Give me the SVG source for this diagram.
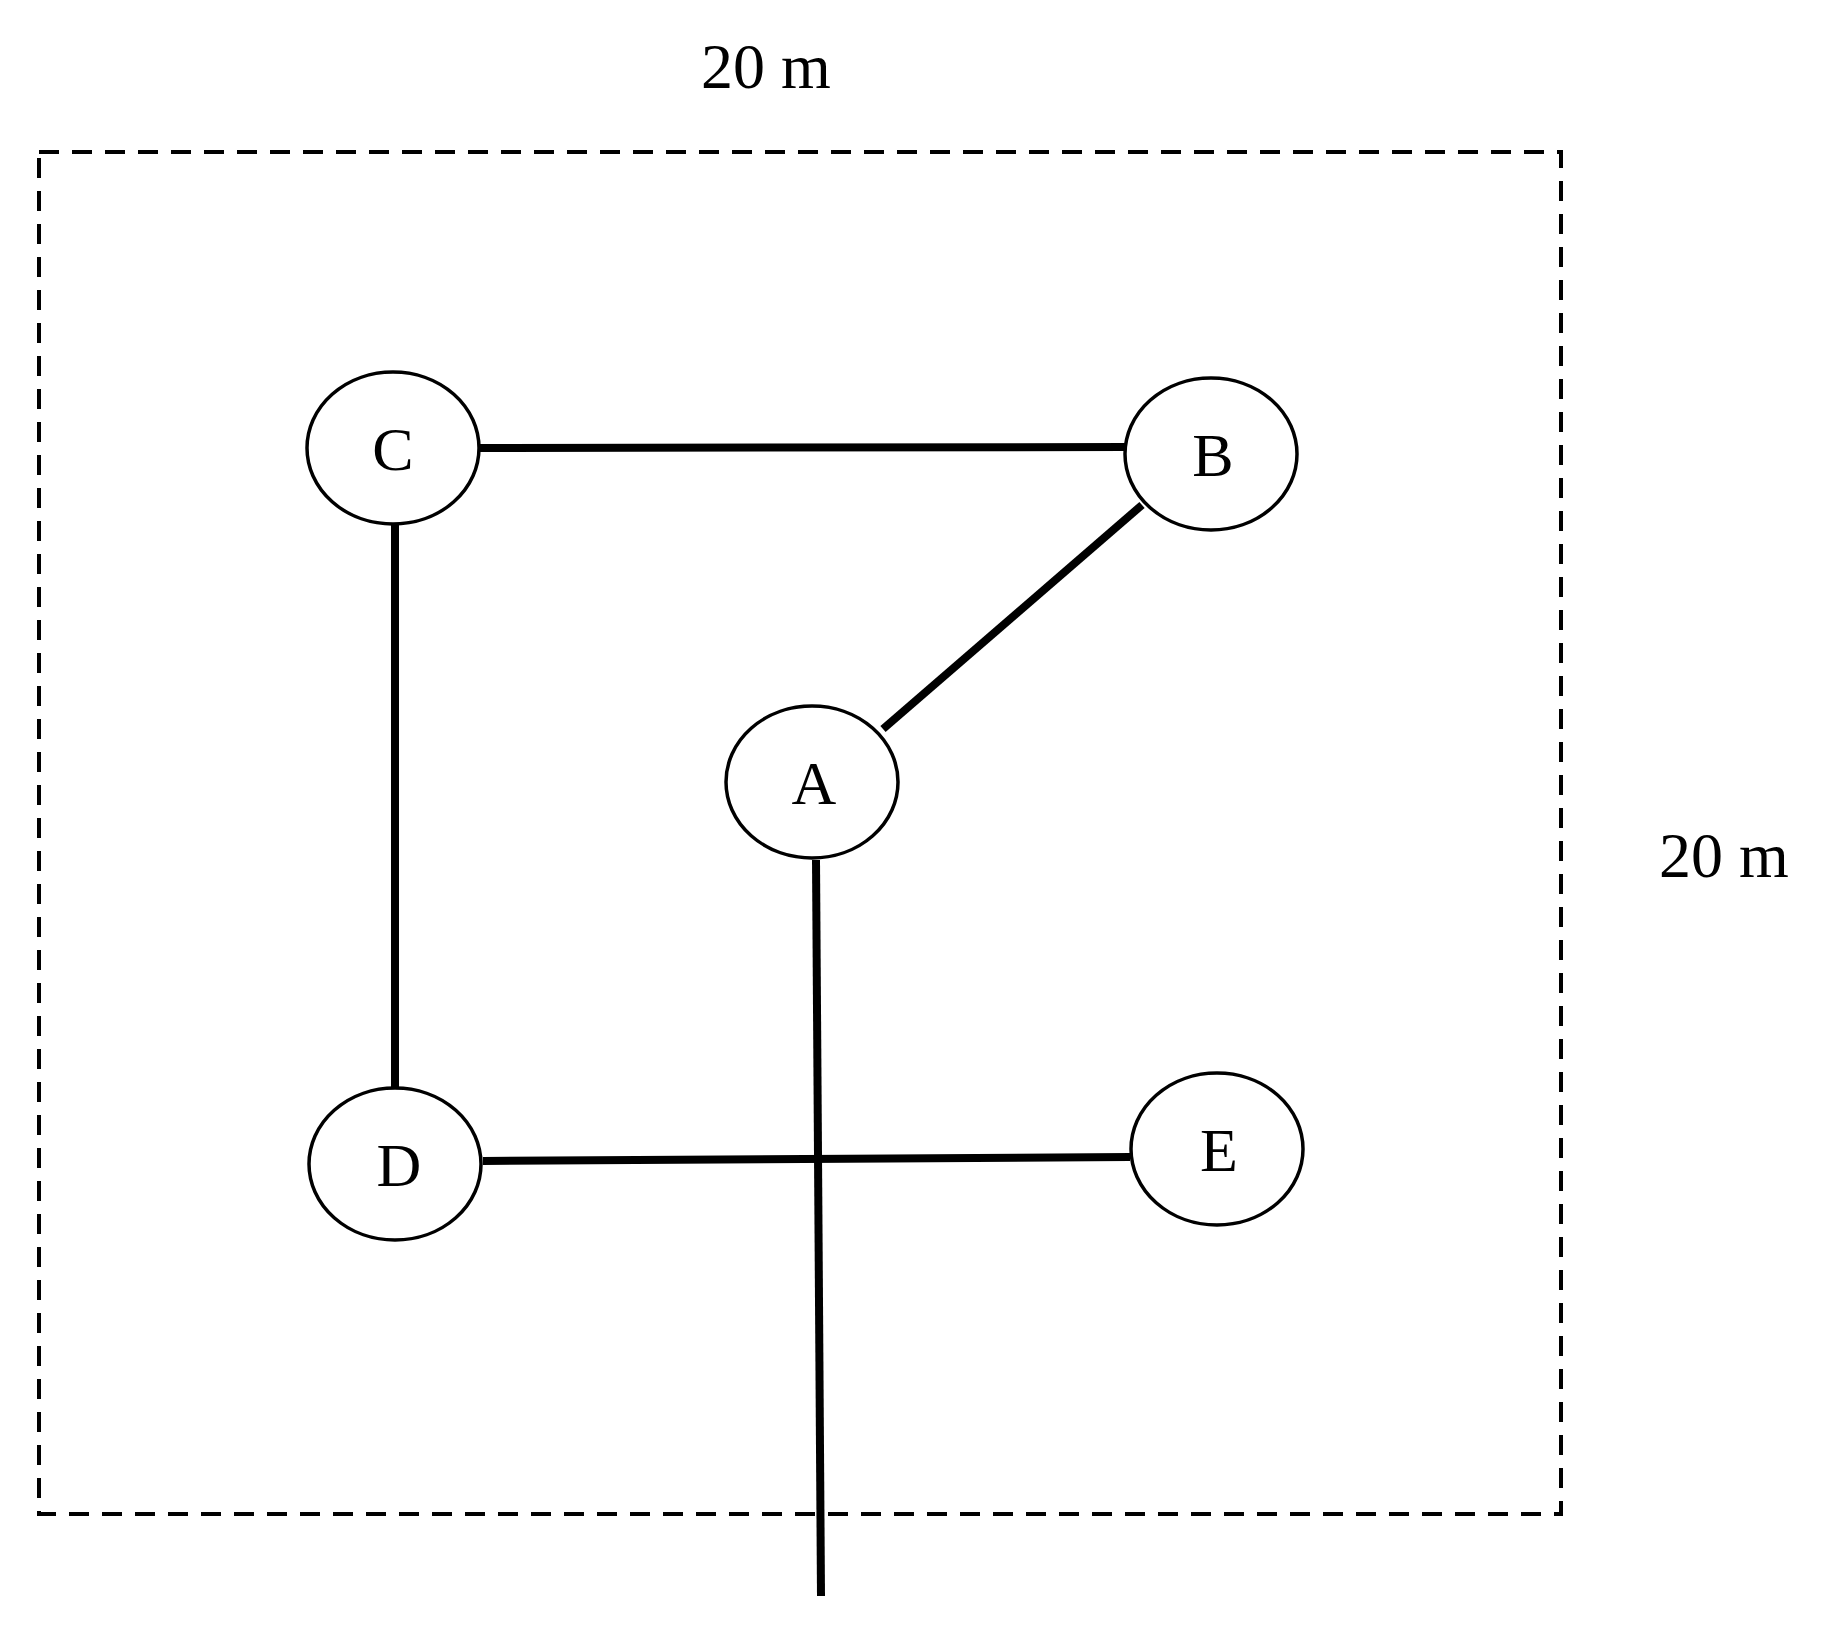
<svg xmlns="http://www.w3.org/2000/svg" width="1833" height="1648" viewBox="0 0 1833 1648">
<style>
.n ellipse{fill:#fff;stroke:#000;stroke-width:3.5}
text{font-family:"Liberation Serif",serif;fill:#000;text-anchor:middle}
.n text{font-size:62px}
.c line{stroke:#000;stroke-width:8}
</style>
<rect width="1833" height="1648" fill="#fff"/>
<rect x="39" y="152" width="1522" height="1362" fill="none" stroke="#000" stroke-width="4" stroke-dasharray="20 13"/>
<text x="766" y="88" font-size="64">20 m</text>
<text x="1724" y="877" font-size="64">20 m</text>
<g class="c">
<line x1="479" y1="448" x2="1125" y2="447"/>
<line x1="1142" y1="505" x2="883" y2="729"/>
<line x1="395" y1="525" x2="395" y2="1087"/>
<line x1="483" y1="1161" x2="1130" y2="1157"/>
<line x1="816" y1="860" x2="821" y2="1596"/>
</g>
<g id="C" class="n"><ellipse cx="393" cy="448" rx="86" ry="76"/><text x="393" y="470">C</text></g>
<g id="B" class="n"><ellipse cx="1211" cy="454" rx="86" ry="76"/><text x="1213" y="476">B</text></g>
<g id="A" class="n"><ellipse cx="812" cy="782" rx="86" ry="76"/><text x="814" y="804">A</text></g>
<g id="D" class="n"><ellipse cx="395" cy="1164" rx="86" ry="76"/><text x="399" y="1186">D</text></g>
<g id="E" class="n"><ellipse cx="1217" cy="1149" rx="86" ry="76"/><text x="1219" y="1171">E</text></g>
</svg>
